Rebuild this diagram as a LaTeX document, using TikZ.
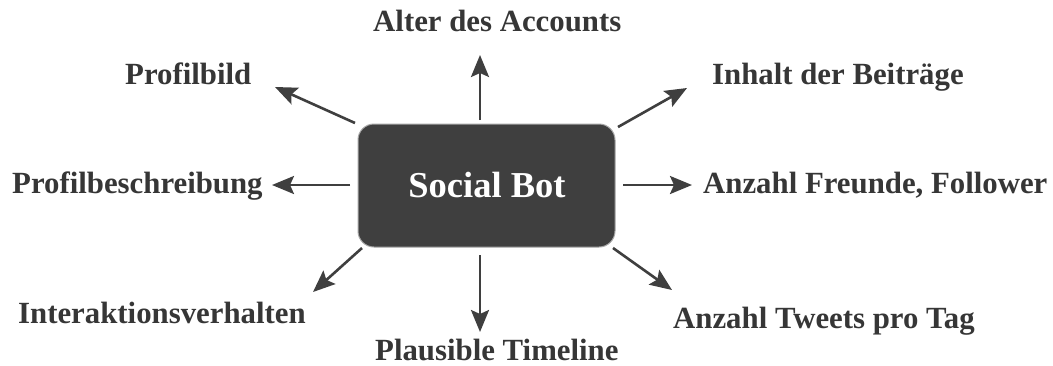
\documentclass[tikz,border=0pt]{standalone}
\usepackage{fontspec}
\setmainfont{Liberation Serif}
\usetikzlibrary{arrows.meta}
\definecolor{dk}{HTML}{3F3F3F}
\definecolor{txt}{HTML}{363636}
\begin{document}
\begin{tikzpicture}[x=1pt,y=-1pt,
  lbl/.style={anchor=base west,inner sep=0pt,text=txt,font=\fontsize{#1}{36}\selectfont\bfseries},
  lbl/.default=30.8,
  arr/.style={draw=dk,line width=2.6pt,-{Stealth[length=22pt,width=18pt,inset=4pt]}}]
\useasboundingbox[fill=white] (0,0) rectangle (1053,365);
\draw[fill=dk,draw=gray!70,line width=1pt,rounded corners=16pt] (358,124) rectangle (615,247);
\node[inner sep=0pt,text=white,font=\fontsize{36.5}{40}\selectfont\bfseries] (bot) at (487,185) {Social Bot};
\node[lbl] (alter) at (373,31) {Alter des Accounts};
\node[lbl] (bild) at (125,84) {Profilbild};
\node[lbl] (inhalt) at (712,84) {Inhalt der Beiträge};
\node[lbl] (beschr) at (12,193) {Profilbeschreibung};
\node[lbl] (freunde) at (703,193) {Anzahl Freunde, Follower};
\node[lbl] (inter) at (18,323) {Interaktionsverhalten};
\node[lbl] (tweets) at (673,328) {Anzahl Tweets pro Tag};
\node[lbl] (plaus) at (375,360) {Plausible Timeline};
\coordinate (s1) at (480,120); \coordinate (e1) at (480,55);
\coordinate (s2) at (355,123); \coordinate (e2) at (275,87);
\coordinate (s3) at (618,127); \coordinate (e3) at (687,88);
\coordinate (s4) at (350,185); \coordinate (e4) at (272,185);
\coordinate (s5) at (623,185); \coordinate (e5) at (692,185);
\coordinate (s6) at (362,248); \coordinate (e6) at (313,292);
\coordinate (s7) at (480,255); \coordinate (e7) at (480,332);
\coordinate (s8) at (613,248); \coordinate (e8) at (672,290);
\foreach \i in {1,...,8} {\draw[arr] (s\i) -- (e\i);}
\end{tikzpicture}
\end{document}
